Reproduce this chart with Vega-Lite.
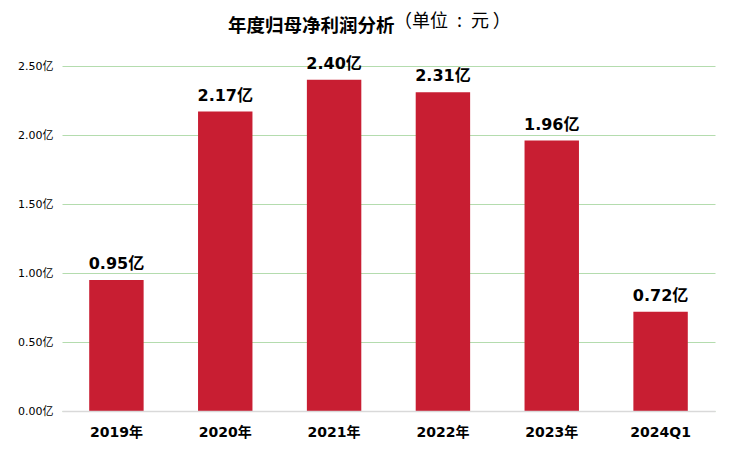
{
  "$schema": "https://vega.github.io/schema/vega-lite/v6.json",
  "autosize": {"type": "none"},
  "padding": {"left": 62, "top": 66, "right": 15, "bottom": 46},
  "width": 653,
  "height": 345,
  "background": "white",
  "title": {
    "text": "年度归母净利润分析",
    "subtitle": "\u200b\u3000\u3000\u3000\u3000\u3000\u3000\u3000\u3000\u3000\u00a0（单位\u2002:\u2002元\u2009）",
    "anchor": "start",
    "frame": "group",
    "align": "left",
    "dx": 166,
    "offset": 17,
    "font": "Noto Sans CJK SC",
    "fontSize": 18.5,
    "fontWeight": "bold",
    "color": "#000000",
    "subtitleFont": "Noto Sans CJK SC",
    "subtitleFontSize": 18,
    "subtitleFontWeight": "normal",
    "subtitleColor": "#000000",
    "subtitlePadding": -22
  },
  "data": {
    "values": [
      {"period": "2019年", "value": 0.95, "label": "0.95亿"},
      {"period": "2020年", "value": 2.17, "label": "2.17亿"},
      {"period": "2021年", "value": 2.40, "label": "2.40亿"},
      {"period": "2022年", "value": 2.31, "label": "2.31亿"},
      {"period": "2023年", "value": 1.96, "label": "1.96亿"},
      {"period": "2024Q1", "value": 0.72, "label": "0.72亿"}
    ]
  },
  "encoding": {
    "x": {
      "field": "period",
      "type": "nominal",
      "sort": null,
      "scale": {"paddingInner": 0.5, "paddingOuter": 0.25},
      "axis": {
        "title": null,
        "labelAngle": 0,
        "ticks": false,
        "domainColor": "#d9d9d9",
        "domainWidth": 1.5,
        "labelFont": "DejaVu Sans, Noto Sans CJK SC",
        "labelFontSize": 14,
        "labelFontWeight": "bold",
        "labelColor": "#000000",
        "labelPadding": 14,
        "zindex": 1
      }
    },
    "y": {
      "field": "value",
      "type": "quantitative",
      "scale": {"domain": [0, 2.5], "nice": false},
      "axis": {
        "title": null,
        "values": [0, 0.5, 1, 1.5, 2, 2.5],
        "labelExpr": "format(datum.value, '.2f') + '亿'",
        "ticks": false,
        "domain": false,
        "gridColor": "#b4dcae",
        "gridWidth": 1,
        "labelFont": "DejaVu Sans, Noto Sans CJK SC",
        "labelFontSize": 11,
        "labelColor": "#000000",
        "labelPadding": 9
      }
    }
  },
  "layer": [
    {
      "mark": {"type": "bar", "color": "#c81e32"}
    },
    {
      "mark": {
        "type": "text",
        "baseline": "bottom",
        "dy": -8,
        "font": "DejaVu Sans, Noto Sans CJK SC",
        "fontSize": 16,
        "fontWeight": "bold",
        "color": "#000000"
      },
      "encoding": {"text": {"field": "label"}}
    }
  ],
  "config": {"view": {"stroke": null}}
}
